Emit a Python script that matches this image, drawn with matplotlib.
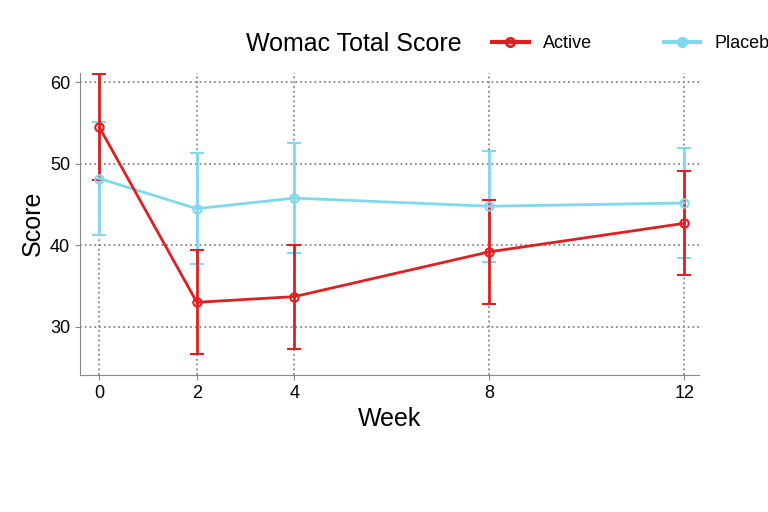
import numpy as np
import matplotlib.pyplot as plt
from matplotlib.lines import Line2D

plt.rcParams['font.family'] = ['Liberation Sans', 'DejaVu Sans']

weeks = [0, 2, 4, 8, 12]
active = [54.5, 33.0, 33.7, 39.2, 42.7]
active_err = [6.5, 6.4, 6.4, 6.4, 6.4]
placebo = [48.2, 44.5, 45.8, 44.8, 45.2]
placebo_err = [6.9, 6.8, 6.8, 6.8, 6.8]

fig = plt.figure(figsize=(7.68, 5.12), dpi=100)
ax = fig.add_axes([0.104, 0.268, 0.806, 0.59])

ax.errorbar(weeks, placebo, yerr=placebo_err, color='#7fd8ee', lw=2, marker='o',
            ms=6, mfc='none', mew=1.5, capsize=5, capthick=2)
ax.errorbar(weeks, active, yerr=active_err, color='#e02020', lw=2, marker='o',
            ms=6, mfc='none', mew=1.5, capsize=5, capthick=2)

ax.set_xlim(-0.4, 12.3)
ax.set_ylim(24.1, 61.2)
ax.set_xticks(weeks)
ax.set_yticks([30, 40, 50, 60])
ax.grid(True, ls=':', color='#888888', lw=1.3)
for s in ['top', 'right']:
    ax.spines[s].set_visible(False)
ax.spines['left'].set_color('#888888')
ax.spines['bottom'].set_color('#888888')
ax.tick_params(labelsize=13, color='#888888')
ax.set_xlabel('Week', fontsize=18)
ax.set_ylabel('Score', fontsize=18)

fig.text(0.32, 0.915, 'Womac Total Score', fontsize=18, va='center')
handles = [Line2D([], [], color='#e02020', lw=3, marker='o', mfc='none', mew=2),
           Line2D([], [], color='#7fd8ee', lw=3, marker='o', mfc='#7fd8ee', mew=2)]
fig.legend(handles, ['Active', 'Placebo'], ncol=2, loc='center left',
           bbox_to_anchor=(0.62, 0.915), frameon=False, fontsize=13,
           columnspacing=4)

plt.savefig('out.png')
